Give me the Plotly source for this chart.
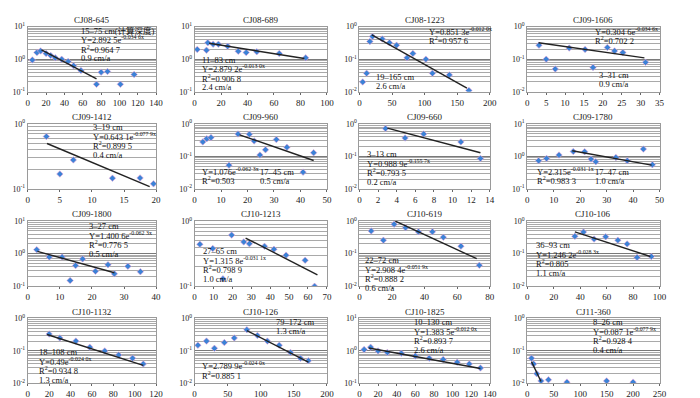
import plotly.graph_objects as go

W, H = 700, 398

names = ["CJ08-645", "CJ08-689", "CJ08-1223", "CJ09-1606",
         "CJ09-1412", "CJ09-960", "CJ09-660", "CJ09-1780",
         "CJ09-1800", "CJ10-1213", "CJ10-619", "CJ10-106",
         "CJ10-1132", "CJ10-126", "CJ10-1825", "CJ11-360"]

x_max = [140, 100, 200, 35, 20, 50, 14, 50, 40, 70, 80, 100, 120, 200, 140, 250]
x_step = [20, 20, 50, 5, 5, 10, 2, 10, 10, 10, 20, 20, 20, 50, 20, 50]
# log10 limits of the y axis
y_lo = [-1, -1, -2, -2, -1, -2, -2, -1, -1, -1, -2, -2, -2, -2, -1, -2]
y_hi = [1, 1, 0, 0, 0, 0, 0, 1, 1, 0, 0, 0, 0, 0, 1, 0]

# depth (cm) and excess 210Pb activity
depth_645 = [5, 10, 14, 20, 25, 30, 37, 44, 50, 58, 75, 80, 87, 101, 116]
act_645 = [0.95, 1.6, 1.8, 1.5, 1.3, 1.1, 1.0, 0.85, 0.63, 0.45, 0.17, 0.4, 0.42, 0.17, 0.34]
depth_689 = [2, 9, 10, 14, 18, 25, 33, 39, 47, 64, 84]
act_689 = [2.0, 1.9, 3.2, 2.9, 2.9, 2.5, 1.75, 1.6, 1.7, 1.5, 1.1]
depth_1223 = [5, 11, 16, 20, 35, 46, 57, 73, 82, 102, 112, 138, 168]
act_1223 = [0.02, 0.037, 0.35, 0.5, 0.42, 0.32, 0.27, 0.11, 0.15, 0.1, 0.037, 0.033, 0.011]
depth_1606 = [3.1, 5, 7.4, 11.1, 15.3, 17.4, 21.2, 23.1, 25.3, 31.3]
act_1606 = [0.27, 0.1, 0.05, 0.22, 0.2, 0.056, 0.23, 0.18, 0.16, 0.08]
depth_1412 = [2.9, 5, 7.1, 13.2, 17.5, 19.6]
act_1412 = [0.64, 0.17, 0.28, 0.147, 0.148, 0.12]
depth_960 = [3.1, 4.6, 6.2, 13, 16.4, 20.7, 22.5, 24.7, 26.8, 30.9, 34.9, 41, 45]
act_960 = [0.28, 0.35, 0.38, 0.054, 0.49, 0.48, 0.3, 0.11, 0.16, 0.33, 0.19, 0.033, 0.13]
depth_660 = [2.8, 4.9, 6.9, 10.9, 13]
act_660 = [0.72, 0.37, 0.49, 0.28, 0.087]
depth_1780 = [4.3, 7.3, 12, 17.4, 21.7, 24.1, 25.9, 33.5, 37.8, 43.9, 47.3]
act_1780 = [0.74, 0.87, 1.1, 1.42, 1.4, 0.83, 0.69, 0.93, 0.74, 1.68, 0.56]
depth_1800 = [2.8, 6.7, 10.7, 13.2, 14.9, 17.1, 21.1, 25, 27, 31.2, 35.1]
act_1800 = [1.33, 0.79, 0.79, 0.15, 0.43, 0.69, 0.29, 0.46, 0.24, 0.41, 0.28]
depth_1213 = [2.8, 9.6, 15, 19.6, 26, 29, 37, 42, 48.4, 58.5, 63.5]
act_1213 = [0.44, 0.38, 0.13, 0.61, 0.48, 0.45, 0.41, 0.37, 0.3, 0.25, 0.1]
depth_619 = [7.2, 14.7, 21.3, 28.3, 36.2, 44.8, 51.5, 62.3, 73.6]
act_619 = [0.5, 0.26, 0.8, 0.63, 0.47, 0.47, 0.32, 0.17, 0.044]
depth_106 = [36, 42.5, 50.5, 59.3, 68.5, 75.5, 83, 93.8]
act_106 = [0.34, 0.46, 0.28, 0.33, 0.26, 0.2, 0.077, 0.082]
depth_1132 = [20, 30, 45, 58, 72, 85, 98, 108]
act_1132 = [0.33, 0.25, 0.2, 0.13, 0.1, 0.075, 0.06, 0.04]
depth_126 = [5, 18, 30, 45, 60, 79, 95, 110, 128, 145, 160, 172]
act_126 = [0.15, 0.2, 0.12, 0.18, 0.25, 0.45, 0.3, 0.2, 0.15, 0.09, 0.06, 0.05]
depth_1825 = [5, 12, 20, 30, 45, 60, 75, 90, 105, 118, 130]
act_1825 = [1.1, 1.3, 1.0, 0.9, 0.85, 0.7, 0.6, 0.55, 0.45, 0.4, 0.3]
depth_360 = [8, 12, 18, 26, 40, 75, 150, 200]
act_360 = [0.06, 0.04, 0.02, 0.012, 0.013, 0.011, 0.012, 0.011]

depths = [depth_645, depth_689, depth_1223, depth_1606, depth_1412, depth_960,
          depth_660, depth_1780, depth_1800, depth_1213, depth_619, depth_106,
          depth_1132, depth_126, depth_1825, depth_360]
acts = [act_645, act_689, act_1223, act_1606, act_1412, act_960,
        act_660, act_1780, act_1800, act_1213, act_619, act_106,
        act_1132, act_126, act_1825, act_360]

# fitted line end points (depth, activity)
fit_x = [(15, 75), (11, 83), (19, 165), (3, 31), (3, 19), (17, 45), (3, 13), (17, 47),
         (3, 27), (27, 65), (22, 72), (36, 93), (18, 108), (79, 172), (10, 130), (8, 26)]
fit_y = [(1.95, 0.25), (3.1, 1.05), (0.56, 0.013), (0.32, 0.11), (0.5, 0.109), (0.46, 0.075),
         (0.74, 0.13), (1.5, 0.54), (1.18, 0.26), (0.55, 0.15), (1.0, 0.07), (0.47, 0.082),
         (0.32, 0.036), (0.42, 0.045), (1.23, 0.29), (0.047, 0.0115)]

# text blocks: (x fraction of plot width, top in px, lines)
notes = [
    [(0.40, 13, ["15–75 cm(计算深度)", "Y=2.892 5e<sup>-0.034 6x</sup>", "R<sup>2</sup>=0.964 7", "0.9 cm/a"])],
    [(0.04, 43, ["11–83 cm", "Y=2.879 2e<sup>-0.013 0x</sup>", "R<sup>2</sup>=0.906 8", "2.4 cm/a"])],
    [(0.52, 14, ["Y=0.851 3e<sup>-0.012 0x</sup>", "R<sup>2</sup>=0.957 6"]),
     (0.11, 61, ["19–165 cm", "2.6 cm/a"])],
    [(0.50, 14, ["Y=0.304 6e<sup>-0.034 6x</sup>", "R<sup>2</sup>=0.702 2"]),
     (0.53, 59, ["3–31 cm", "0.9 cm/a"])],
    [(0.49, 112, ["3–19 cm", "Y=0.643 1e<sup>-0.077 9x</sup>", "R<sup>2</sup>=0.899 5", "0.4 cm/a"])],
    [(0.04, 158, ["Y=1.076e<sup>-0.062 3x</sup>", "R<sup>2</sup>=0.503"]),
     (0.48, 158, ["17–45 cm", "0.5 cm/a"])],
    [(0.04, 140, ["3–13 cm", "Y=0.988 9e<sup>-0.155 7x</sup>", "R<sup>2</sup>=0.793 5", "0.2 cm/a"])],
    [(0.06, 158, ["Y=2.315e<sup>-0.031 1x</sup>", "R<sup>2</sup>=0.983 3"]),
     (0.50, 158, ["17–47 cm", "1.0 cm/a"])],
    [(0.46, 214, ["3–27 cm", "Y=1.400 6e<sup>-0.062 3x</sup>", "R<sup>2</sup>=0.776 5", "0.5 cm/a"])],
    [(0.05, 240, ["27–65 cm", "Y=1.315 8e<sup>-0.031 1x</sup>", "R<sup>2</sup>=0.798 9", "1.0 cm/a"])],
    [(0.03, 249, ["22–72 cm", "Y=2.908 4e<sup>-0.051 9x</sup>", "R<sup>2</sup>=0.888 2", "0.6 cm/a"])],
    [(0.05, 234, ["36–93 cm", "Y=1.246 2e<sup>-0.028 3x</sup>", "R<sup>2</sup>=0.805", "1.1 cm/a"])],
    [(0.07, 344, ["18–108 cm", "Y=0.49e<sup>-0.024 0x</sup>", "R<sup>2</sup>=0.934 8", "1.3 cm/a"])],
    [(0.60, 313, ["79–172 cm", "1.3 cm/a"]),
     (0.04, 358, ["Y=2.789 9e<sup>-0.024 0x</sup>", "R<sup>2</sup>=0.885 1"])],
    [(0.40, 313, ["10–130 cm", "Y=1.383 5e<sup>-0.012 0x</sup>", "R<sup>2</sup>=0.893 7", "2.6 cm/a"])],
    [(0.48, 313, ["8–26 cm", "Y=0.087 1e<sup>-0.077 9x</sup>", "R<sup>2</sup>=0.928 4", "0.4 cm/a"])],
]

# plot-area pixel boxes
col_px = [(18, 148), (187, 321), (354, 486), (524, 658)]
row_px = [(13, 80), (113, 180), (213, 280), (313, 380)]

FONT = "Liberation Serif, Times New Roman, Noto Sans CJK SC, serif"
LINE_GAP = 9.5

fig = go.Figure()
annotations = []

for i, name in enumerate(names):
    r, c = divmod(i, 4)
    n = i + 1
    xa = "x" if n == 1 else f"x{n}"
    ya = "y" if n == 1 else f"y{n}"
    x0, x1 = col_px[c]
    y0, y1 = row_px[r]

    fig.add_trace(go.Scatter(
        x=depths[i], y=acts[i], mode="markers",
        marker=dict(symbol="diamond", size=5, color="#3b82d6",
                    line=dict(color="#e9a6d6", width=0.6)),
        xaxis=xa, yaxis=ya, showlegend=False, hoverinfo="skip"))
    fig.add_trace(go.Scatter(
        x=list(fit_x[i]), y=list(fit_y[i]), mode="lines",
        line=dict(color="#222222", width=1.4),
        xaxis=xa, yaxis=ya, showlegend=False, hoverinfo="skip"))

    decades = list(range(y_lo[i], y_hi[i] + 1))
    minor = [m * 10 ** d for d in range(y_lo[i], y_hi[i]) for m in range(2, 10)]
    fig.layout[xa.replace("x", "xaxis")] = dict(
        domain=[x0 / W, x1 / W], anchor=ya,
        range=[0, x_max[i]], dtick=x_step[i], tick0=0,
        showgrid=False, zeroline=False,
        showline=True, mirror=True, linecolor="#9a9a9a", linewidth=1,
        ticks="outside", ticklen=2, tickcolor="#666666",
        tickfont=dict(family=FONT, size=9, color="#222222"))
    fig.layout[ya.replace("y", "yaxis")] = dict(
        domain=[1 - y1 / H, 1 - y0 / H], anchor=xa,
        type="log", range=[y_lo[i], y_hi[i]],
        tickmode="array", tickvals=[10 ** d for d in decades],
        ticktext=[f"10<sup>{d}</sup>" for d in decades],
        showgrid=True, gridcolor="#7a7a7a", gridwidth=1,
        minor=dict(tickvals=minor, showgrid=True, gridcolor="#a9a9a9", gridwidth=1, ticks=""),
        zeroline=False, showline=True, mirror=True, linecolor="#9a9a9a", linewidth=1,
        ticks="", tickfont=dict(family=FONT, size=8, color="#222222"))

    annotations.append(dict(
        text=name, xref="paper", yref="paper",
        x=(x0 + x1) / 2 / W, y=1 - (y0 - 7) / H,
        xanchor="center", yanchor="middle", showarrow=False,
        font=dict(family=FONT, size=9, color="#222222")))

    for fx, top, lines in notes[i]:
        for k, line in enumerate(lines):
            annotations.append(dict(
                text=line, xref="paper", yref="paper",
                x=(x0 + fx * (x1 - x0)) / W, y=1 - (top + 4 + k * LINE_GAP) / H,
                xanchor="left", yanchor="middle", showarrow=False,
                font=dict(family=FONT, size=8.5, color="#111111")))

fig.update_layout(
    width=W, height=H,
    margin=dict(l=0, r=0, t=0, b=0),
    paper_bgcolor="white", plot_bgcolor="white",
    annotations=annotations,
)

fig.write_html("out.html")
